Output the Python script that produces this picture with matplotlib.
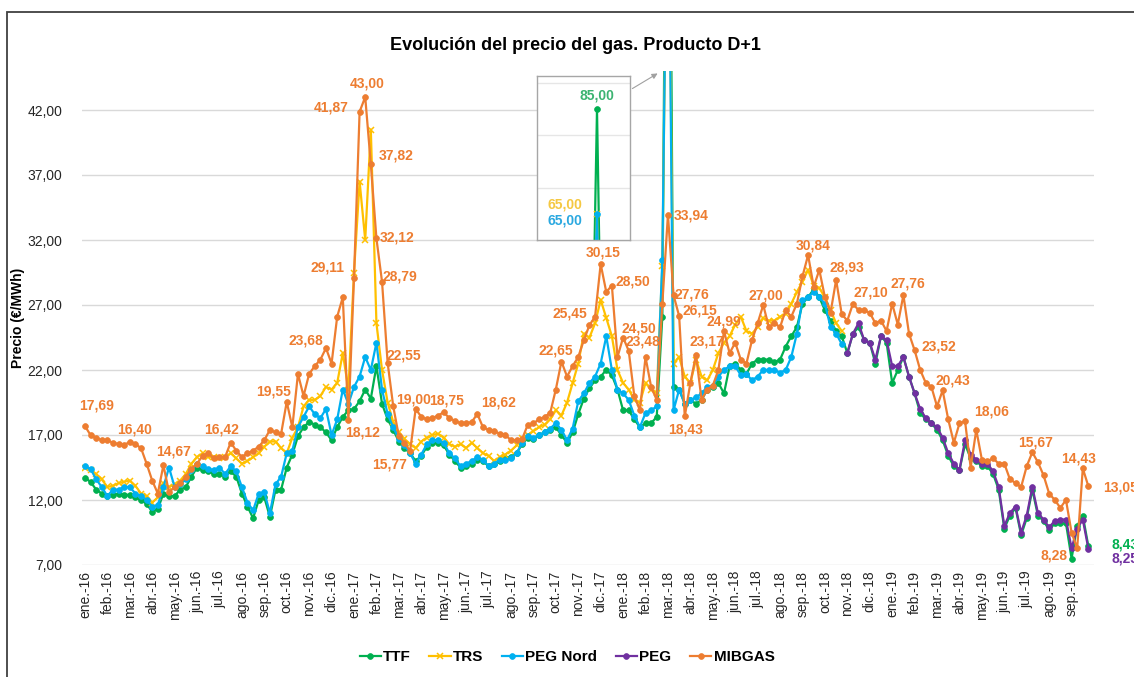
import numpy as np
import matplotlib
matplotlib.use('Agg')
import matplotlib.pyplot as plt
from matplotlib.ticker import FuncFormatter, FixedLocator
from matplotlib.patches import Rectangle

plt.rcParams['font.family'] = ['Liberation Sans', 'DejaVu Sans']

# ---------------- data ----------------
month_abbr = ['ene.', 'feb.', 'mar.', 'abr.', 'may.', 'jun.', 'jul.', 'ago.',
              'sep.', 'oct.', 'nov.', 'dic.']
tick_labels = [f'{month_abbr[i % 12]}-{16 + i // 12}' for i in range(45)]

series_names = ['TTF', 'TRS', 'PEG Nord', 'PEG', 'MIBGAS']

# four readings per month, from ene.-16
ttf = [13.7, 13.4, 12.8, 12.5, 12.3, 12.4, 12.5, 12.4, 12.4, 12.2, 12.0, 11.7,
       11.1, 11.3, 12.5, 12.3, 12.3, 12.8, 13.0, 13.8, 14.5, 14.3, 14.2, 14.0,
       14.0, 13.8, 14.2, 13.8, 12.5, 11.5, 10.6, 12.0, 12.2, 10.7, 12.8, 12.8,
       14.5, 15.5, 16.9, 17.6, 18.0, 17.8, 17.6, 17.2, 16.6, 17.6, 18.4, 18.9,
       19.0, 19.6, 20.5, 19.8, 22.3, 19.4, 18.2, 17.4, 16.5, 16.0, 15.6, 15.0,
       15.4, 16.1, 16.4, 16.4, 16.2, 15.5, 15.0, 14.5, 14.6, 14.8, 15.1, 15.0,
       14.6, 14.8, 15.0, 15.2, 15.3, 15.6, 16.3, 16.8, 16.7, 17.0, 17.2, 17.4,
       17.6, 17.0, 16.4, 17.2, 18.6, 19.8, 20.6, 21.2, 21.5, 22.0, 21.6, 20.5,
       18.9, 18.9, 18.2, 17.6, 17.9, 17.9, 18.4, 26.1, 85.00, 20.7, 20.5, 19.4,
       19.7, 19.4, 19.7, 20.5, 20.7, 21.0, 20.2, 22.3, 22.5, 22.0, 21.7, 22.5,
       22.8, 22.8, 22.8, 22.6, 22.8, 23.8, 24.6, 25.3, 27.1, 27.6, 28.2, 27.6,
       26.6, 25.8, 25.0, 24.6, 23.3, 24.8, 25.3, 24.3, 24.1, 22.5, 24.6, 24.1,
       21.0, 22.0, 23.0, 21.5, 20.2, 18.7, 18.2, 17.9, 17.4, 16.6, 15.4, 14.6,
       14.3, 16.3, 15.2, 15.0, 14.6, 14.6, 14.0, 12.8, 9.8, 10.8, 11.4, 9.3,
       10.6, 12.8, 10.8, 10.4, 9.7, 10.2, 10.2, 10.2, 7.5, 10.0, 10.8, 8.43]

trs = [14.5, 14.3, 14.0, 13.6, 13.0, 13.1, 13.3, 13.4, 13.5, 13.1, 12.5, 12.3,
       11.8, 12.2, 13.3, 13.0, 13.2, 13.5, 14.0, 14.8, 15.3, 15.6, 15.3, 15.3,
       15.2, 15.3, 15.6, 15.2, 14.8, 15.0, 15.3, 15.6, 16.1, 16.5, 16.5, 16.0,
       15.6, 16.8, 17.6, 19.2, 19.7, 19.7, 20.0, 20.7, 20.5, 21.0, 23.3, 20.5,
       29.5, 36.5, 32.0, 40.5, 25.6, 22.0, 19.5, 18.0, 17.2, 16.7, 16.3, 16.0,
       16.5, 16.8, 17.0, 17.1, 16.8, 16.3, 16.1, 16.3, 16.0, 16.4, 16.0, 15.6,
       15.4, 15.0, 15.3, 15.5, 15.8, 16.2, 16.8, 17.0, 17.3, 17.6, 17.8, 18.2,
       18.9, 18.5, 19.5, 21.0, 22.5, 24.8, 24.5, 25.6, 27.4, 26.0, 24.6, 22.0,
       21.0, 20.5, 19.7, 19.5, 21.0, 20.5, 20.2, 30.0, 65.00, 22.5, 23.0, 21.5,
       21.0, 22.8, 21.5, 21.2, 22.0, 23.3, 24.1, 24.6, 25.5, 26.1, 25.0, 24.8,
       25.3, 26.0, 25.8, 25.8, 26.1, 26.3, 27.1, 28.0, 28.8, 29.7, 28.5, 28.3,
       27.6, 26.6, 25.6, 25.0]

peg_nord = [14.6, 14.4, 13.6, 13.0, 12.3, 12.8, 12.8, 13.0, 13.0, 12.5, 12.3, 12.0,
            11.5, 11.6, 13.0, 14.5, 13.0, 13.2, 13.6, 14.3, 14.8, 14.6, 14.4, 14.3,
            14.5, 14.0, 14.6, 14.2, 13.0, 11.8, 11.2, 12.5, 12.6, 11.0, 13.2, 13.8,
            15.6, 15.8, 17.6, 18.4, 19.2, 18.6, 18.3, 19.0, 17.0, 18.2, 20.5, 19.4,
            20.7, 21.5, 23.0, 22.0, 24.1, 20.5, 18.6, 17.6, 16.7, 16.2, 15.6, 14.8,
            15.5, 16.3, 16.6, 16.6, 16.4, 15.6, 15.2, 14.6, 14.8, 15.0, 15.3, 15.1,
            14.6, 14.8, 15.1, 15.1, 15.2, 15.6, 16.4, 16.9, 16.8, 17.0, 17.2, 17.5,
            17.9, 17.4, 16.6, 17.5, 19.6, 20.2, 21.0, 21.5, 22.5, 24.6, 22.0, 20.5,
            20.2, 19.7, 18.5, 17.6, 18.7, 18.9, 19.2, 30.5, 65.00, 18.9, 20.5, 19.4,
            19.7, 19.9, 20.2, 20.7, 20.8, 21.5, 22.0, 22.3, 22.3, 21.6, 21.7, 21.2,
            21.5, 22.0, 22.0, 22.0, 21.8, 22.0, 23.0, 24.8, 27.4, 27.6, 28.0, 27.6,
            27.1, 25.3, 24.8, 24.0]

# PEG starts in nov.-18
peg_start_month = 34
peg = [23.3, 24.8, 25.6, 24.3, 24.1, 22.8, 24.6, 24.3, 22.3, 22.3, 23.0, 21.5,
       20.2, 19.0, 18.3, 17.9, 17.6, 16.8, 15.6, 14.8, 14.3, 16.6, 15.5, 15.1,
       14.8, 14.8, 14.2, 13.0, 10.0, 11.0, 11.5, 9.5, 10.8, 13.0, 11.0, 10.5,
       9.9, 10.4, 10.5, 10.5, 8.3, 9.8, 10.5, 8.25]

mibgas = [17.69, 17.0, 16.8, 16.6, 16.6, 16.40, 16.3, 16.2, 16.5, 16.3, 16.0, 14.8,
          13.5, 12.5, 14.67, 12.6, 13.0, 13.3, 13.8, 14.4, 14.8, 15.4, 15.6, 15.2,
          15.3, 15.3, 16.42, 15.8, 15.3, 15.6, 15.8, 16.1, 16.6, 17.4, 17.2, 17.1,
          19.55, 17.6, 21.7, 20.0, 21.7, 22.3, 22.8, 23.68, 22.5, 26.1, 27.6, 18.12,
          29.11, 41.87, 43.00, 37.82, 32.12, 28.79, 22.55, 19.2, 16.9, 16.4, 15.77, 19.00,
          18.4, 18.2, 18.3, 18.5, 18.75, 18.3, 18.1, 17.9, 17.9, 18.0, 18.62, 17.6,
          17.4, 17.3, 17.1, 17.0, 16.6, 16.6, 16.7, 17.8, 17.9, 18.2, 18.4, 18.7,
          20.5, 22.65, 21.5, 22.3, 23.0, 24.3, 25.45, 26.1, 30.15, 28.0, 28.50, 23.0,
          24.50, 23.48, 20.0, 18.9, 23.0, 20.7, 19.7, 27.1, 33.94, 27.76, 26.15, 18.43,
          21.0, 23.17, 19.7, 20.5, 20.8, 22.0, 24.99, 23.3, 24.1, 22.8, 22.5, 24.3,
          25.6, 27.00, 25.3, 25.6, 25.3, 26.6, 26.1, 27.1, 29.2, 30.84, 28.4, 29.7,
          27.6, 26.4, 28.93, 26.3, 25.8, 27.10, 26.6, 26.6, 26.4, 25.6, 25.8, 25.0,
          27.1, 25.5, 27.76, 24.8, 23.52, 22.0, 21.0, 20.7, 19.2, 20.43, 18.2, 16.4,
          17.9, 18.06, 14.5, 17.4, 15.1, 15.0, 15.2, 14.8, 14.8, 13.6, 13.3, 13.0,
          14.6, 15.67, 14.9, 13.9, 12.5, 12.0, 11.4, 12.0, 9.5, 8.28, 14.43, 13.05]

# labelled MIBGAS points: (index, dx px, dy px downwards)
mibgas_labels = [(0, 12, -21), (5, 22, -13), (14, 10, -14), (26, -9, -13),
                 (36, -13, -10), (43, -20, -8), (47, 14, 12), (48, -27, -10),
                 (49, -28, -4), (50, 2, -13), (51, 25, -9), (52, 21, -1),
                 (53, 18, -5), (54, 16, -7), (58, -21, 14), (59, -2, -10),
                 (64, 3, -12), (70, 21, -11), (85, -6, -11), (90, -20, -12),
                 (92, 2, -12), (94, 21, -4), (96, 16, -9), (97, 14, -9),
                 (104, 23, 1), (105, 18, -1), (106, 21, -6), (107, 1, 13),
                 (109, 11, -13), (114, 0, -10), (121, 3, -10), (129, 5, -10),
                 (134, 11, -12), (137, 18, -11), (146, 4, -12), (148, 24, -4),
                 (153, 10, -10), (157, 27, -10), (169, 3, -10), (177, -23, 7),
                 (178, -4, -10)]

# ---------------- styles ----------------
colors = {'TTF': '#00B050', 'TRS': '#FFC000', 'PEG Nord': '#00B0F0',
          'PEG': '#7030A0', 'MIBGAS': '#ED7D31'}
markers = {'TTF': 'o', 'TRS': 'x', 'PEG Nord': 'o', 'PEG': 'o', 'MIBGAS': 'o'}
STEP = 0.25  # months between readings
LW = 1.6

def fmt(v):
    return f'{v:.2f}'.replace('.', ',')

def mstyle(name):
    mk = markers[name]
    return dict(marker=mk, markersize=4.2 if mk == 'o' else 4.4,
                markeredgewidth=1.1 if mk == 'x' else 0.5)

W, H = 1134, 677
fig = plt.figure(figsize=(W / 100, H / 100), dpi=100)
fig.patch.set_facecolor('white')

# chart border (right and bottom sides lie outside the picture)
fig.add_artist(Rectangle((7 / W, -0.05), 1.1, (H - 12) / H + 0.05,
                         transform=fig.transFigure, fill=False,
                         edgecolor='#404040', lw=1.3))

ax = fig.add_axes([82 / W, (H - 565) / H, (1094 - 82) / W, (565 - 71) / H])

xs = {
    'TTF': np.arange(len(ttf)) * STEP,
    'TRS': np.arange(len(trs)) * STEP,
    'PEG Nord': np.arange(len(peg_nord)) * STEP,
    'PEG': peg_start_month + np.arange(len(peg)) * STEP,
    'MIBGAS': np.arange(len(mibgas)) * STEP,
}
ys = {'TTF': ttf, 'TRS': trs, 'PEG Nord': peg_nord, 'PEG': peg, 'MIBGAS': mibgas}

handles = []
for name in series_names:
    h, = ax.plot(xs[name], ys[name], color=colors[name], lw=LW,
                 label=name, zorder=3, **mstyle(name))
    handles.append(h)

ax.set_ylim(7, 45)
ax.set_xlim(-0.13, 45.0)
ax.yaxis.set_major_locator(FixedLocator([7, 12, 17, 22, 27, 32, 37, 42]))
ax.yaxis.set_major_formatter(FuncFormatter(lambda v, p: fmt(v)))
ax.set_xticks(np.arange(len(tick_labels)))
ax.set_xticklabels(tick_labels, rotation=90, fontsize=10, color='#262626')
ax.tick_params(axis='y', length=0, pad=14, labelsize=10, labelcolor='#262626')
ax.tick_params(axis='x', length=0, pad=4)
ax.grid(axis='y', color='#d9d9d9', lw=1)
ax.set_axisbelow(True)
for s in ax.spines.values():
    s.set_visible(False)
ax.set_ylabel('Precio (€/MWh)', fontsize=10, fontweight='bold', color='#000000')
ax.yaxis.set_label_coords((25 - 82) / (1094 - 82), 0.5)

# data labels
for idx, dx, dy in mibgas_labels:
    ax.annotate(fmt(mibgas[idx]), xy=(xs['MIBGAS'][idx], mibgas[idx]),
                xytext=(dx, -dy), textcoords='offset pixels',
                ha='center', va='center', fontsize=10, fontweight='bold',
                color=colors['MIBGAS'], annotation_clip=False, zorder=5)
ax.annotate(fmt(mibgas[-1]), xy=(xs['MIBGAS'][-1], mibgas[-1]), xytext=(15, -1),
            textcoords='offset pixels', ha='left', va='center', fontsize=10,
            fontweight='bold', color=colors['MIBGAS'], annotation_clip=False)
ax.annotate(fmt(ttf[-1]), xy=(xs['TTF'][-1], ttf[-1]), xytext=(23, 2),
            textcoords='offset pixels', ha='left', va='center', fontsize=10,
            fontweight='bold', color=colors['TTF'], annotation_clip=False)
ax.annotate(fmt(peg[-1]), xy=(xs['PEG'][-1], peg[-1]), xytext=(23, -10),
            textcoords='offset pixels', ha='left', va='center', fontsize=10,
            fontweight='bold', color=colors['PEG'], annotation_clip=False)

fig.suptitle('Evolución del precio del gas. Producto D+1', x=575 / W, y=1 - 45 / H,
             fontsize=13, fontweight='bold', va='center')

# inset with the clipped spike
spike_idx = int(np.argmax(ttf))
spike_x = xs['TTF'][spike_idx]
px_per_month = (1094 - 82) / (45.0 + 0.13)
ins = fig.add_axes([537 / W, (H - 240) / H, 93 / W, 164 / H])
for name in ['TTF', 'TRS', 'PEG Nord']:
    ins.plot(xs[name], ys[name], color=colors[name], lw=LW, **mstyle(name))
ins.set_xlim(spike_x - 60 / px_per_month, spike_x + 33 / px_per_month)
ins.set_ylim(60, 91.3)
ins.set_yticks([70, 80, 90])
ins.set_xticks([])
ins.tick_params(axis='y', length=0, labelleft=False)
ins.grid(axis='y', color='#e6e6e6', lw=1)
for s in ins.spines.values():
    s.set_edgecolor('#a6a6a6')
    s.set_linewidth(1)
ins.annotate(fmt(ttf[spike_idx]), xy=(spike_x, ttf[spike_idx]), xytext=(0, 14),
             textcoords='offset pixels', ha='center', va='center', fontsize=10,
             fontweight='bold', color='#3cb371')
ins.annotate(fmt(trs[spike_idx]), xy=(spike_x, trs[spike_idx]), xytext=(-32, 9),
             textcoords='offset pixels', ha='center', va='center', fontsize=10,
             fontweight='bold', color='#f5c842')
ins.annotate(fmt(peg_nord[spike_idx]), xy=(spike_x, peg_nord[spike_idx]), xytext=(-32, -7),
             textcoords='offset pixels', ha='center', va='center', fontsize=10,
             fontweight='bold', color='#2aa8e0')
ax.annotate('', xy=(660, H - 72), xytext=(630, H - 90), xycoords='figure pixels',
            textcoords='figure pixels',
            arrowprops=dict(arrowstyle='-|>', color='#a0a0a0', lw=0.8,
                            mutation_scale=8), annotation_clip=False)

leg = fig.legend(handles=handles, labels=series_names, loc='center',
                 bbox_to_anchor=(567 / W, 1 - 657 / H), ncol=5, frameon=False,
                 prop={'weight': 'bold', 'size': 11}, handlelength=1.4,
                 handletextpad=0.15, columnspacing=1.2)

fig.savefig('out.png', dpi=100)
